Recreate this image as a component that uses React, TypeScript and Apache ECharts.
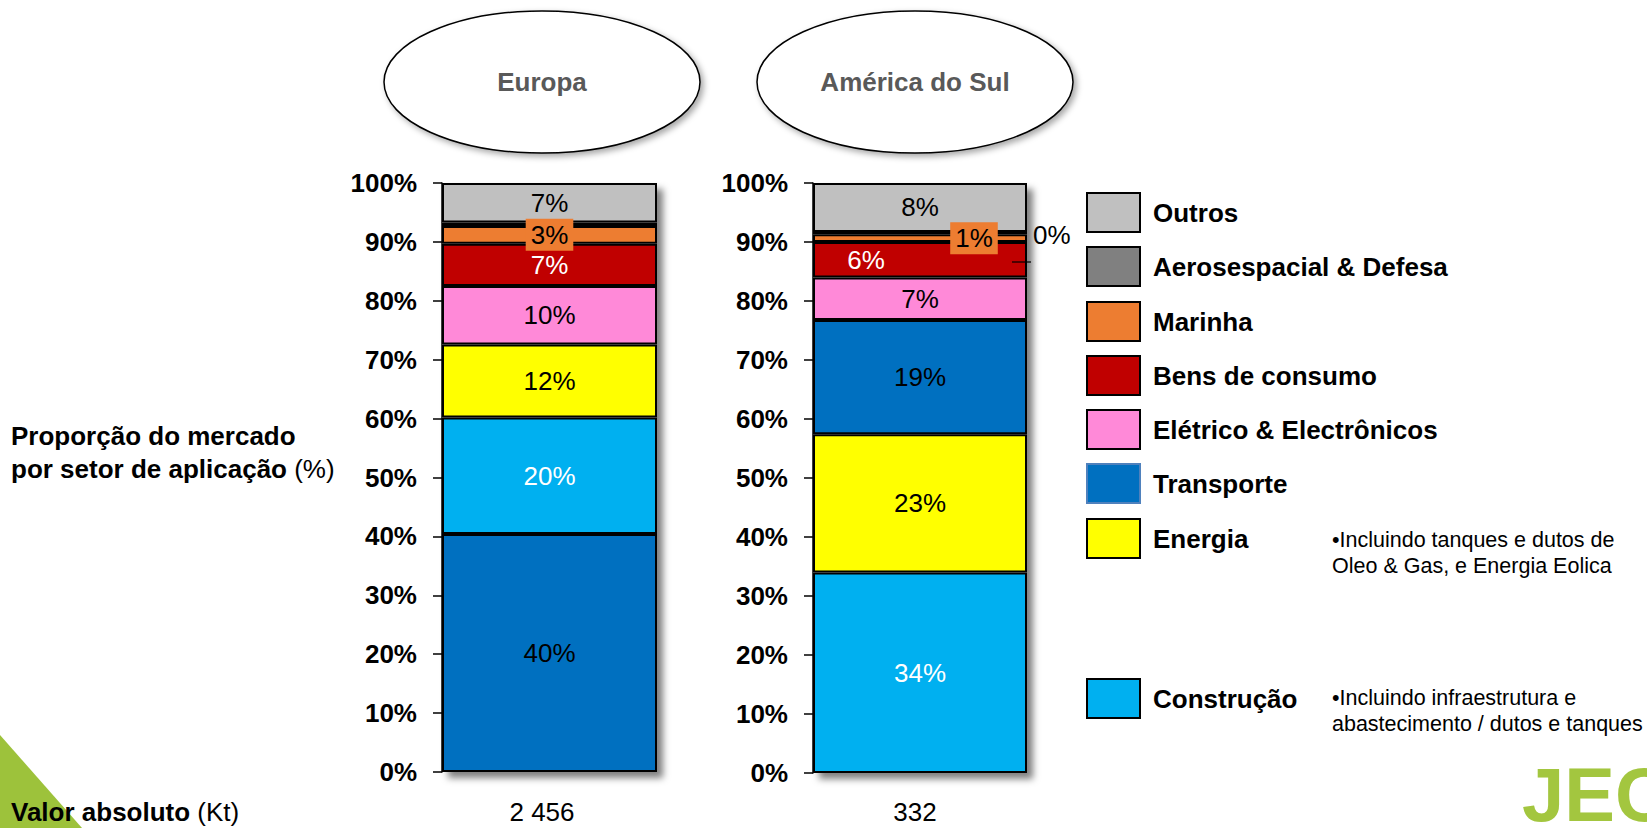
import React, { useEffect, useRef } from "react";
import * as echarts from "echarts";

// ---------- DATA ----------
const categories = ["Europa", "América do Sul"];
const absoluteValues = ["2 456", "332"];

const sectors = [
  "Outros",
  "Aerosespacial & Defesa",
  "Marinha",
  "Bens de consumo",
  "Elétrico & Electrônicos",
  "Transporte",
  "Energia",
  "Construção",
];

// stacking order from bottom to top, per region
const europaOrder = [
  "Transporte",
  "Construção",
  "Energia",
  "Elétrico & Electrônicos",
  "Bens de consumo",
  "Marinha",
  "Aerosespacial & Defesa",
  "Outros",
];
const europaValues = [40.4, 19.8, 12.4, 9.9, 7.2, 3.0, 0.6, 6.7];

const americaOrder = [
  "Construção",
  "Energia",
  "Transporte",
  "Elétrico & Electrônicos",
  "Bens de consumo",
  "Marinha",
  "Aerosespacial & Defesa",
  "Outros",
];
const americaValues = [34.0, 23.4, 19.4, 7.2, 6.0, 1.3, 0.4, 8.3];

const energiaNote = ["•Incluindo tanques e dutos de", "Oleo & Gas, e Energia Eolica"];
const construcaoNote = ["•Incluindo infraestrutura e", "abastecimento / dutos e tanques"];

// ---------- STYLE ----------
const FONT = "'Liberation Sans', Arial, Helvetica, sans-serif";
const COLORS: Record<string, string> = {
  Outros: "#C0C0C0",
  "Aerosespacial & Defesa": "#808080",
  Marinha: "#ED7D31",
  "Bens de consumo": "#C00000",
  "Elétrico & Electrônicos": "#FF89D8",
  Transporte: "#0070C0",
  Energia: "#FFFF00",
  "Construção": "#00B0F0",
};
const WHITE_LABELS: Record<string, string[]> = {
  Europa: ["Construção", "Bens de consumo"],
  "América do Sul": ["Construção", "Bens de consumo"],
};

const GRIDS = [
  { left: 442, top: 183, width: 215, height: 589 },
  { left: 813, top: 183, width: 214, height: 590 },
];
const TITLE_X = [542, 915];

function labelFor(region: string, sector: string) {
  const base: any = {
    show: true,
    position: "inside",
    fontSize: 26,
    fontFamily: FONT,
    color: WHITE_LABELS[region].includes(sector) ? "#FFFFFF" : "#000000",
    formatter: (p: any) => Math.round(p.value) + "%",
  };
  if (sector === "Marinha") {
    base.backgroundColor = COLORS.Marinha;
    base.padding = [3, 5, 3, 5];
    if (region === "América do Sul") base.offset = [54, 0];
  }
  if (sector === "Bens de consumo" && region === "América do Sul") {
    base.offset = [-54, 0];
  }
  if (sector === "Aerosespacial & Defesa") {
    if (region === "Europa") return { show: false };
    base.position = "right";
    base.distance = 6;
    base.offset = [0, 2];
    base.color = "#000000";
  }
  return base;
}

function buildSeries(gi: number, region: string, order: string[], values: number[]) {
  const out: any[] = [
    {
      type: "bar",
      name: "sombra-" + gi,
      xAxisIndex: gi,
      yAxisIndex: gi,
      barWidth: "100%",
      barGap: "-100%",
      silent: true,
      z: 1,
      data: [100],
      itemStyle: {
        color: "#ffffff",
        shadowColor: "rgba(0,0,0,0.5)",
        shadowBlur: 7,
        shadowOffsetX: 6,
        shadowOffsetY: 6,
      },
      label: { show: false },
    },
  ];
  order.forEach((sector, i) => {
    out.push({
      type: "bar",
      name: sector,
      stack: "s" + gi,
      xAxisIndex: gi,
      yAxisIndex: gi,
      barWidth: "100%",
      barGap: "-100%",
      z: 2,
      itemStyle: {
        color: COLORS[sector],
        borderColor: "#000",
        borderWidth: 2,
      },
      label: labelFor(region, sector),
      data: [values[i]],
    });
  });
  return out;
}

function buildGraphics() {
  const g: any[] = [];
  // title ellipses
  categories.forEach((c, i) => {
    g.push({
      type: "ellipse",
      shape: { cx: TITLE_X[i], cy: 82, rx: 158, ry: 71 },
      style: {
        fill: "#fff",
        stroke: "#000",
        lineWidth: 1.5,
        shadowColor: "rgba(0,0,0,0.35)",
        shadowBlur: 6,
        shadowOffsetX: 3,
        shadowOffsetY: 3,
      },
      z: 10,
    });
    g.push({
      type: "text",
      x: TITLE_X[i],
      y: 82,
      z: 11,
      style: {
        text: c,
        fill: "#595959",
        font: `bold 26px ${FONT}`,
        align: "center",
        verticalAlign: "middle",
      },
    });
    g.push({
      type: "text",
      x: TITLE_X[i],
      y: 812,
      style: {
        text: absoluteValues[i],
        fill: "#000",
        font: `26px ${FONT}`,
        align: "center",
        verticalAlign: "middle",
      },
    });
  });
  // left axis title
  g.push({
    type: "text",
    x: 11,
    y: 452,
    style: {
      text: "{b|Proporção do mercado}\n{b|por setor de aplicação}{r| (%)}",
      verticalAlign: "middle",
      rich: {
        b: { font: `bold 26px ${FONT}`, fill: "#000", lineHeight: 33 },
        r: { font: `26px ${FONT}`, fill: "#000", lineHeight: 33 },
      },
    },
  });
  // green triangle
  g.push({
    type: "polygon",
    shape: { points: [[0, 735], [0, 828], [82, 828]] },
    style: { fill: "#9DC23B" },
    z: 0,
  });
  g.push({
    type: "text",
    x: 11,
    y: 812,
    z: 5,
    style: {
      text: "{b|Valor absoluto}{r| (Kt)}",
      verticalAlign: "middle",
      rich: {
        b: { font: `bold 26px ${FONT}`, fill: "#000" },
        r: { font: `26px ${FONT}`, fill: "#000" },
      },
    },
  });
  // legend
  const legendTops = [193, 247, 302, 356, 410, 464, 519, 679];
  sectors.forEach((s, i) => {
    g.push({
      type: "rect",
      shape: { x: 1087, y: legendTops[i], width: 53, height: 39 },
      style: {
        fill: COLORS[s],
        stroke: s === "Transporte" ? "#4F81BD" : "#000",
        lineWidth: 2,
      },
    });
    g.push({
      type: "text",
      x: 1153,
      y: legendTops[i] + 20,
      style: {
        text: s,
        fill: "#000",
        font: `bold 26px ${FONT}`,
        verticalAlign: "middle",
      },
    });
  });
  // notes
  [
    { lines: energiaNote, y: 540 },
    { lines: construcaoNote, y: 698 },
  ].forEach((n) => {
    n.lines.forEach((t, j) => {
      g.push({
        type: "text",
        x: 1332,
        y: n.y + j * 25.5,
        style: { text: t, fill: "#000", font: `21.5px ${FONT}`, verticalAlign: "middle" },
      });
    });
  });
  // leader line of the 0% label
  g.push({
    type: "line",
    shape: { x1: 1012, y1: 262, x2: 1031, y2: 262 },
    style: { stroke: "#000", lineWidth: 1.2 },
    z: 20,
  });
  // JEC logo (cut by the right edge as in the slide)
  g.push({
    type: "text",
    x: 1522,
    y: 756,
    style: {
      text: "JEC",
      fill: "#A3C63F",
      font: `bold 76px ${FONT}`,
      verticalAlign: "top",
    },
  });
  return g;
}

export default function App() {
  const ref = useRef<HTMLDivElement>(null);
  useEffect(() => {
    if (!ref.current) return;
    const chart = echarts.init(ref.current, undefined, { renderer: "svg" });
    const option: any = {
      animation: false,
      backgroundColor: "#ffffff",
      textStyle: { fontFamily: FONT },
      grid: GRIDS.map((g) => ({ ...g, containLabel: false })),
      xAxis: categories.map((c, i) => ({
        type: "category",
        gridIndex: i,
        data: [c],
        axisLine: { show: false },
        axisTick: { show: false },
        axisLabel: { show: false },
        splitLine: { show: false },
      })),
      yAxis: categories.map((_, i) => ({
        type: "value",
        gridIndex: i,
        min: 0,
        max: 100,
        interval: 10,
        axisLine: { show: true, lineStyle: { color: "#000", width: 1.5 } },
        axisTick: { show: true, length: 9, lineStyle: { color: "#000", width: 1.5 } },
        splitLine: { show: false },
        axisLabel: {
          formatter: "{value}%",
          fontSize: 26,
          fontWeight: "bold",
          color: "#000",
          margin: 25,
          fontFamily: FONT,
        },
      })),
      series: [
        ...buildSeries(0, categories[0], europaOrder, europaValues),
        ...buildSeries(1, categories[1], americaOrder, americaValues),
      ],
      graphic: buildGraphics(),
    };
    chart.setOption(option);
    return () => chart.dispose();
  }, []);
  return (
    <div
      ref={ref}
      style={{ position: "fixed", left: 0, top: 0, width: 1647, height: 828, background: "#fff" }}
    />
  );
}
